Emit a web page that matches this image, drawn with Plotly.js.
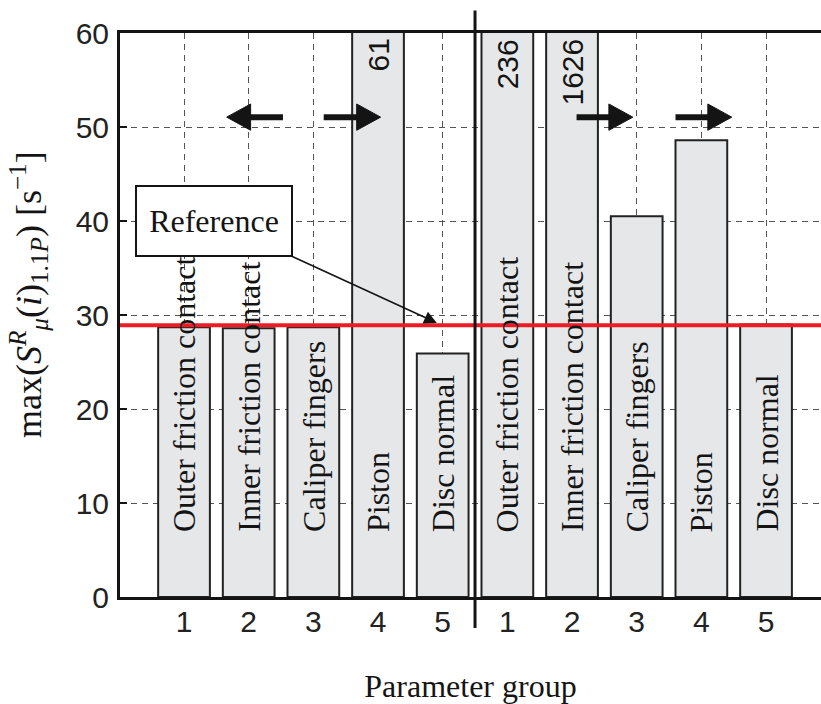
<!DOCTYPE html>
<html>
<head>
<meta charset="utf-8">
<script src="https://cdn.plot.ly/plotly-3.0.1.min.js"></script>
<style>
  html, body { margin: 0; padding: 0; background: #ffffff; }
  #chart { width: 821px; height: 704px; }
</style>
</head>
<body>
<div id="chart"></div>
<script>
// Sensitivity maxima per parameter group, two sets of five groups
const positions = [1, 2, 3, 4, 5, 6, 7, 8, 9, 10];
const tickLabels = ['1', '2', '3', '4', '5', '1', '2', '3', '4', '5'];
const groupNames = [
  'Outer friction contact', 'Inner friction contact', 'Caliper fingers', 'Piston', 'Disc normal',
  'Outer friction contact', 'Inner friction contact', 'Caliper fingers', 'Piston', 'Disc normal'
];
const maxSensitivity = [28.7, 28.6, 28.7, 61, 25.9, 236, 1626, 40.5, 48.6, 29.0];
const referenceLevel = 28.9;

// Axis extents
const xRange = [0.01, 10.85];
const yRange = [0, 60];

const serif = 'Liberation Serif, Times New Roman, serif';
const sans = 'Liberation Sans, Arial, Helvetica, sans-serif';
const ink = '#141414';

const bars = {
  type: 'bar',
  x: positions,
  y: maxSensitivity,
  width: 0.8,
  marker: { color: '#e6e7e9', line: { color: '#222222', width: 2 } },
  hoverinfo: 'x+y',
  showlegend: false
};

const annotations = [];

// Group names written upward inside each bar
positions.forEach((p, i) => {
  annotations.push({
    x: p, y: 6.7, xref: 'x', yref: 'y',
    text: groupNames[i], textangle: -90,
    xanchor: 'center', yanchor: 'bottom',
    showarrow: false,
    font: { family: serif, size: 32, color: ink }
  });
});

// Values of bars that run past the top of the axis
positions.forEach((p, i) => {
  if (maxSensitivity[i] > yRange[1]) {
    annotations.push({
      x: p, y: yRange[1], xref: 'x', yref: 'y',
      text: String(maxSensitivity[i]), textangle: -90,
      xanchor: 'center', yanchor: 'top', yshift: -4,
      showarrow: false,
      font: { family: sans, size: 30, color: ink }
    });
  }
});

// Callout for the reference level
annotations.push({
  x: 4.91, y: 29.15, ax: 1.464, ay: 40.05,
  xref: 'x', yref: 'y', axref: 'x', ayref: 'y',
  text: 'Reference', showarrow: true,
  arrowhead: 2, arrowsize: 1.6, arrowwidth: 1.6, arrowcolor: ink,
  bgcolor: '#ffffff', bordercolor: ink, borderwidth: 2, borderpad: 2,
  width: 150, height: 64, align: 'center',
  font: { family: serif, size: 32, color: ink }
});

// Vertical-axis title
annotations.push({
  x: -0.13, y: 0.537, xref: 'paper', yref: 'paper',
  xanchor: 'center', yanchor: 'middle', textangle: -90, showarrow: false,
  text: 'max(<i>S</i><sup><i>R</i></sup><sub><i>μ</i></sub>(<i>i</i>)<sub>1.1<i>P</i></sub>) [s<sup>−1</sup>]',
  font: { family: serif, size: 36, color: ink }
});

// Separator between the two sets, placed through the x scale
const sepPaper = (5.5 - xRange[0]) / (xRange[1] - xRange[0]);

const shapes = [
  {
    type: 'line', xref: 'paper', yref: 'y',
    x0: 0, x1: 1, y0: referenceLevel, y1: referenceLevel,
    line: { color: '#ec1c24', width: 4 }, layer: 'above'
  },
  {
    type: 'line', xref: 'paper', yref: 'paper',
    x0: sepPaper, x1: sepPaper, y0: -0.055, y1: 1.04,
    line: { color: ink, width: 3 }, layer: 'above'
  }
];

// Direction arrows above the groups: shaft plus filled head
const arrowLevel = 51.05;
const arrowSpecs = [
  { from: 2.53, to: 1.66 },
  { from: 3.16, to: 4.04 },
  { from: 7.07, to: 7.94 },
  { from: 8.60, to: 9.47 }
];
const headLen = 0.37, headHalf = 1.4;
arrowSpecs.forEach(a => {
  const dir = Math.sign(a.to - a.from);
  const base = a.to - dir * headLen;
  shapes.push({
    type: 'line', xref: 'x', yref: 'y',
    x0: a.from, x1: base + dir * 0.02, y0: arrowLevel, y1: arrowLevel,
    line: { color: ink, width: 6 }, layer: 'above'
  });
  shapes.push({
    type: 'path', xref: 'x', yref: 'y',
    path: 'M' + base + ',' + (arrowLevel - headHalf) +
          ' L' + a.to + ',' + arrowLevel +
          ' L' + base + ',' + (arrowLevel + headHalf) + ' Z',
    fillcolor: ink, line: { color: ink, width: 1 }, layer: 'above'
  });
});

const gridStyle = { color: '#555555', dash: '6px,5px' };

const layout = {
  width: 821, height: 704,
  margin: { l: 120, r: 0, t: 33, b: 107, pad: 0 },
  paper_bgcolor: '#ffffff', plot_bgcolor: '#ffffff',
  showlegend: false,
  xaxis: {
    range: xRange, tickvals: positions, ticktext: tickLabels,
    showgrid: true, gridcolor: gridStyle.color, griddash: gridStyle.dash, gridwidth: 1,
    zeroline: false, showline: true, linecolor: ink, linewidth: 3, mirror: true,
    ticks: '', ticklabelstandoff: -4,
    tickfont: { family: sans, size: 30, color: '#222222' },
    title: { text: 'Parameter group', font: { family: serif, size: 32, color: ink }, standoff: 38 }
  },
  yaxis: {
    range: yRange, tickvals: [0, 10, 20, 30, 40, 50, 60],
    showgrid: true, gridcolor: gridStyle.color, griddash: gridStyle.dash, gridwidth: 1,
    zeroline: false, showline: true, linecolor: ink, linewidth: 3, mirror: false,
    ticks: 'inside', ticklen: 7, tickwidth: 1.5, tickcolor: ink, ticklabelstandoff: 2,
    tickfont: { family: sans, size: 30, color: '#222222' }
  },
  annotations: annotations,
  shapes: shapes
};

Plotly.newPlot('chart', [bars], layout, { displayModeBar: false, staticPlot: true });
</script>
</body>
</html>
